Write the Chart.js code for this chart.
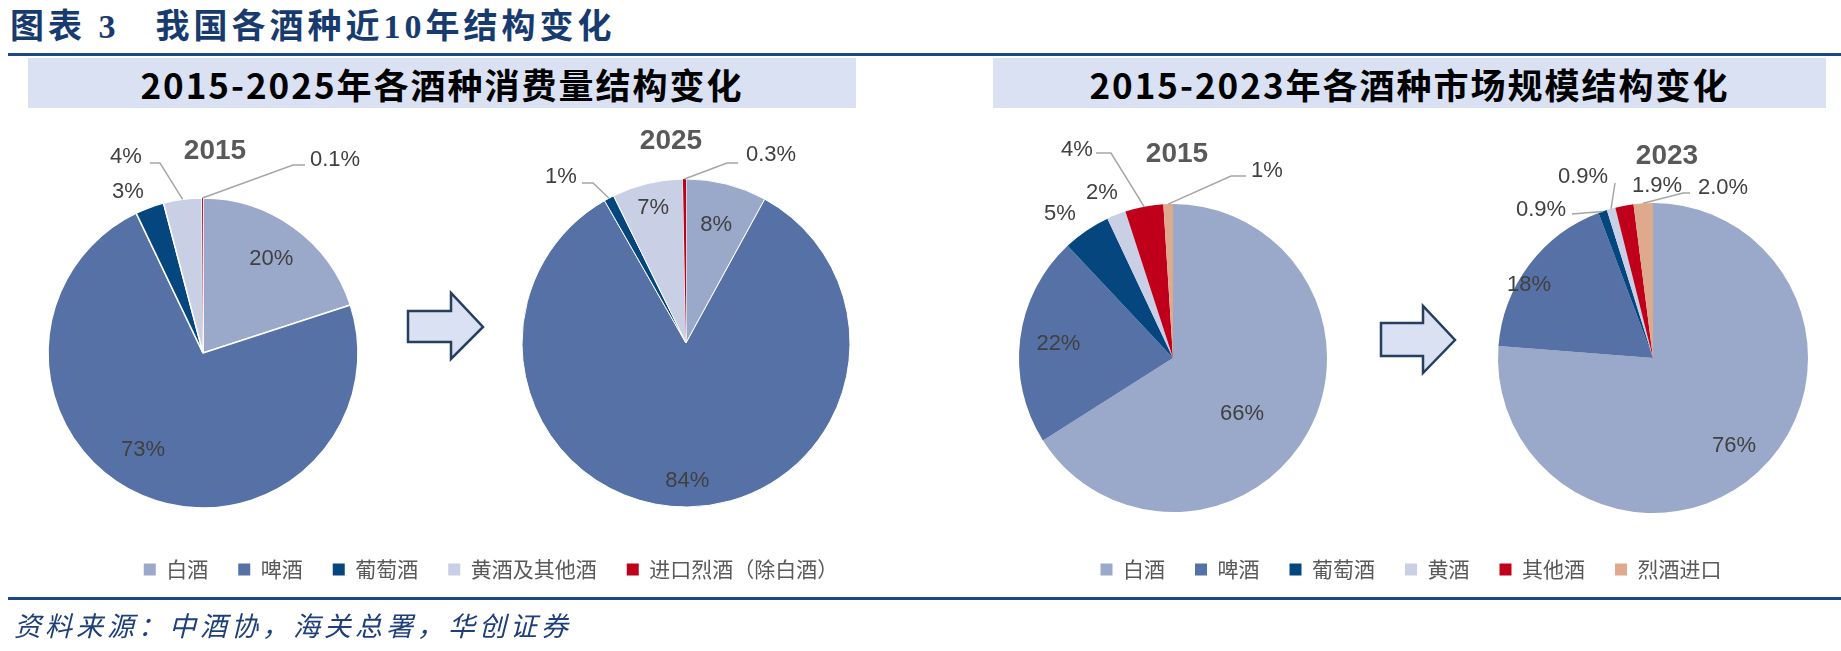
<!DOCTYPE html>
<html>
<head>
<meta charset="utf-8">
<script src="https://cdn.jsdelivr.net/npm/chart.js@4.4.1/dist/chart.umd.min.js"></script>
<style>
  body { margin: 0; width: 1841px; height: 651px; background: #fff; position: relative; overflow: hidden; font-family: "Noto Sans CJK SC", sans-serif; }
  .title { position: absolute; left: 10px; top: 0; height: 54px; line-height: 54px; font-size: 34px; font-weight: bold; color: #183b6f; font-family: "Liberation Serif", "Noto Sans CJK SC", serif; white-space: nowrap; letter-spacing: 4px; }
  .title .gap { display: inline-block; width: 36px; }
  .rule { position: absolute; left: 8px; right: 0; height: 3px; background: #1c4785; }
  .box { position: absolute; top: 58px; height: 50px; background: #d9e1f2; display: flex; align-items: center; justify-content: center; font-size: 35px; font-weight: bold; color: #000; white-space: nowrap; letter-spacing: 2px; }
  .source { position: absolute; left: 14px; top: 605px; height: 40px; line-height: 40px; font-size: 27px; font-style: italic; color: #1f3f7a; letter-spacing: 4px; white-space: nowrap; }
  canvas { position: absolute; left: 0; top: 0; }
  svg { position: absolute; left: 0; top: 0; }
</style>
</head>
<body>
<div class="title">图表 3<span class="gap"></span>我国各酒种近10年结构变化</div>
<div class="rule" style="top:53px"></div>
<div class="box" style="left:28px;width:828px">2015-2025年各酒种消费量结构变化</div>
<div class="box" style="left:993px;width:833px">2015-2023年各酒种市场规模结构变化</div>

<svg width="1841" height="651">
  <polygon points="408,311 451,311 451,293 483,327 451,359 451,342 408,342" fill="#dae1f3" stroke="#243f60" stroke-width="2.5" stroke-linejoin="miter"/>
  <polygon points="1381,323 1423,323 1423,306 1455,340 1423,373 1423,356 1381,356" fill="#dae1f3" stroke="#243f60" stroke-width="2.5" stroke-linejoin="miter"/>
</svg>

<canvas id="c1" width="1841" height="651"></canvas>
<canvas id="c2" width="1841" height="651"></canvas>
<canvas id="c3" width="1841" height="651"></canvas>
<canvas id="c4" width="1841" height="651"></canvas>
<canvas id="leg1" width="1841" height="651"></canvas>
<canvas id="leg2" width="1841" height="651"></canvas>

<div class="rule" style="top:597px"></div>
<div class="source">资料来源：中酒协，海关总署，华创证券</div>

<script>
// consumption structure (%)
const consumeCats = ["白酒", "啤酒", "葡萄酒", "黄酒及其他酒", "进口烈酒（除白酒）"];
const consume2015 = [20, 73, 3, 4, 0.1];
const consume2025 = [8, 84, 1, 7, 0.3];
const consume2015Digits = [0, 0, 0, 0, 1];
const consume2025Digits = [0, 0, 0, 0, 1];

// market size structure (%)
const marketCats = ["白酒", "啤酒", "葡萄酒", "黄酒", "其他酒", "烈酒进口"];
const market2015 = [66, 22, 5, 2, 4, 1];
const market2023 = [76, 18, 0.9, 0.9, 1.9, 2.0];
const market2015Digits = [0, 0, 0, 0, 0, 0];
const market2023Digits = [0, 0, 1, 1, 1, 1];

const consumeColors = ["#9aa8c9", "#5571a6", "#05467f", "#c9cfe4", "#c0001b"];
const marketColors = ["#9aa8c9", "#5571a6", "#05467f", "#c9cfe4", "#c0001b", "#dea98d"];

const W = 1841, H = 651;

// draws the percentage labels, leader lines and the year of each pie
const pieLabels = {
  id: "pieLabels",
  afterDatasetsDraw(chart, args, opts) {
    const arcs = chart.getDatasetMeta(0).data;
    const vals = chart.data.datasets[0].data;
    if (!arcs.length || !opts.layout) return;
    const ctx = chart.ctx;
    const cx = arcs[0].x, cy = arcs[0].y, r = arcs[0].outerRadius;
    ctx.save();
    ctx.font = '22px "Liberation Sans", Arial, sans-serif';
    ctx.textBaseline = "middle";
    ctx.textAlign = "center";
    arcs.forEach((arc, i) => {
      const spec = opts.layout[i];
      const text = vals[i].toFixed(opts.digits[i]) + "%";
      const mid = (arc.startAngle + arc.endAngle) / 2;
      if (spec.f) {
        ctx.fillStyle = "#404040";
        ctx.fillText(text, cx + Math.cos(mid) * r * spec.f, cy + Math.sin(mid) * r * spec.f);
        return;
      }
      if (spec.e) {
        ctx.strokeStyle = "#a6a6a6";
        ctx.lineWidth = 1.5;
        ctx.beginPath();
        ctx.moveTo(cx + Math.cos(mid) * r, cy + Math.sin(mid) * r);
        ctx.lineTo(cx + spec.e[0], cy + spec.e[1]);
        ctx.lineTo(cx + spec.k, cy + spec.e[1]);
        ctx.stroke();
      }
      ctx.fillStyle = "#404040";
      ctx.fillText(text, cx + spec.t[0], cy + spec.t[1]);
    });
    ctx.font = 'bold 28px "Liberation Sans", Arial, sans-serif';
    ctx.fillStyle = "#595959";
    ctx.fillText(opts.year, cx + opts.yearAt[0], cy + opts.yearAt[1]);
    ctx.restore();
  }
};

function makePie(id, cats, values, digits, colors, cx, cy, radius, border, layout, year, yearAt) {
  const R = radius + 6;
  return new Chart(document.getElementById(id), {
    type: "pie",
    data: {
      labels: cats,
      datasets: [{
        data: values,
        backgroundColor: colors,
        borderColor: "#ffffff",
        borderWidth: values.map((v) => (v < 0.5 ? 0 : border)),
      }],
    },
    options: {
      responsive: false,
      animation: false,
      events: [],
      radius: radius,
      layout: { padding: { left: cx - R, right: W - cx - R, top: cy - R, bottom: H - cy - R } },
      plugins: {
        legend: { display: false },
        tooltip: { enabled: false },
        pieLabels: { layout: layout, digits: digits, year: year, yearAt: yearAt },
      },
    },
    plugins: [pieLabels],
  });
}

// legend only: the pie itself has no radius
function makeLegend(id, cats, values, colors, centerX) {
  return new Chart(document.getElementById(id), {
    type: "pie",
    data: {
      labels: cats,
      datasets: [{ data: values, backgroundColor: colors, borderWidth: 0 }],
    },
    options: {
      responsive: false,
      animation: false,
      events: [],
      radius: 0,
      layout: {
        padding: {
          left: Math.max(0, 2 * centerX - W),
          right: Math.max(0, W - 2 * centerX),
          top: 529,
          bottom: 0,
        },
      },
      plugins: {
        tooltip: { enabled: false },
        legend: {
          position: "top",
          labels: {
            boxWidth: 12,
            boxHeight: 12,
            padding: 30,
            color: "#595959",
            font: { family: '"Noto Sans CJK SC", sans-serif', size: 21 },
          },
        },
      },
    },
  });
}

makePie("c1", consumeCats, consume2015, consume2015Digits, consumeColors, 203, 353, 155, 1.5, [
  { f: 0.75 },
  { t: [-60, 97] },
  { t: [-75, -161] },
  { t: [-77, -196], e: [-43, -190], k: -53 },
  { t: [132, -193], e: [90, -188], k: 102 },
], "2015", [12, -202]);

makePie("c2", consumeCats, consume2025, consume2025Digits, consumeColors, 686, 343, 164, 1, [
  { f: 0.74 },
  { f: 0.84 },
  { t: [-125, -166], e: [-93, -160], k: -104 },
  { f: 0.85 },
  { t: [85, -188], e: [41, -180], k: 52 },
], "2025", [-15, -202]);

makePie("c3", marketCats, market2015, market2015Digits, marketColors, 1173, 358, 154, 0, [
  { t: [69, 56] },
  { f: 0.75 },
  { t: [-113, -144] },
  { t: [-71, -165] },
  { t: [-96, -208], e: [-62, -205], k: -77 },
  { t: [94, -187], e: [58, -182], k: 73 },
], "2015", [4, -204]);

makePie("c4", marketCats, market2023, market2023Digits, marketColors, 1653, 358, 155, 0, [
  { f: 0.77 },
  { t: [-124, -73] },
  { t: [-112, -148], e: [-81, -144], k: -81 },
  { t: [-70, -181], e: [-38, -175], k: -38 },
  { t: [4, -172] },
  { t: [70, -170], e: [30, -165], k: 37 },
], "2023", [14, -202]);

makeLegend("leg1", consumeCats, consume2015, consumeColors, 491);
makeLegend("leg2", marketCats, market2015, marketColors, 1411);
</script>
</body>
</html>
